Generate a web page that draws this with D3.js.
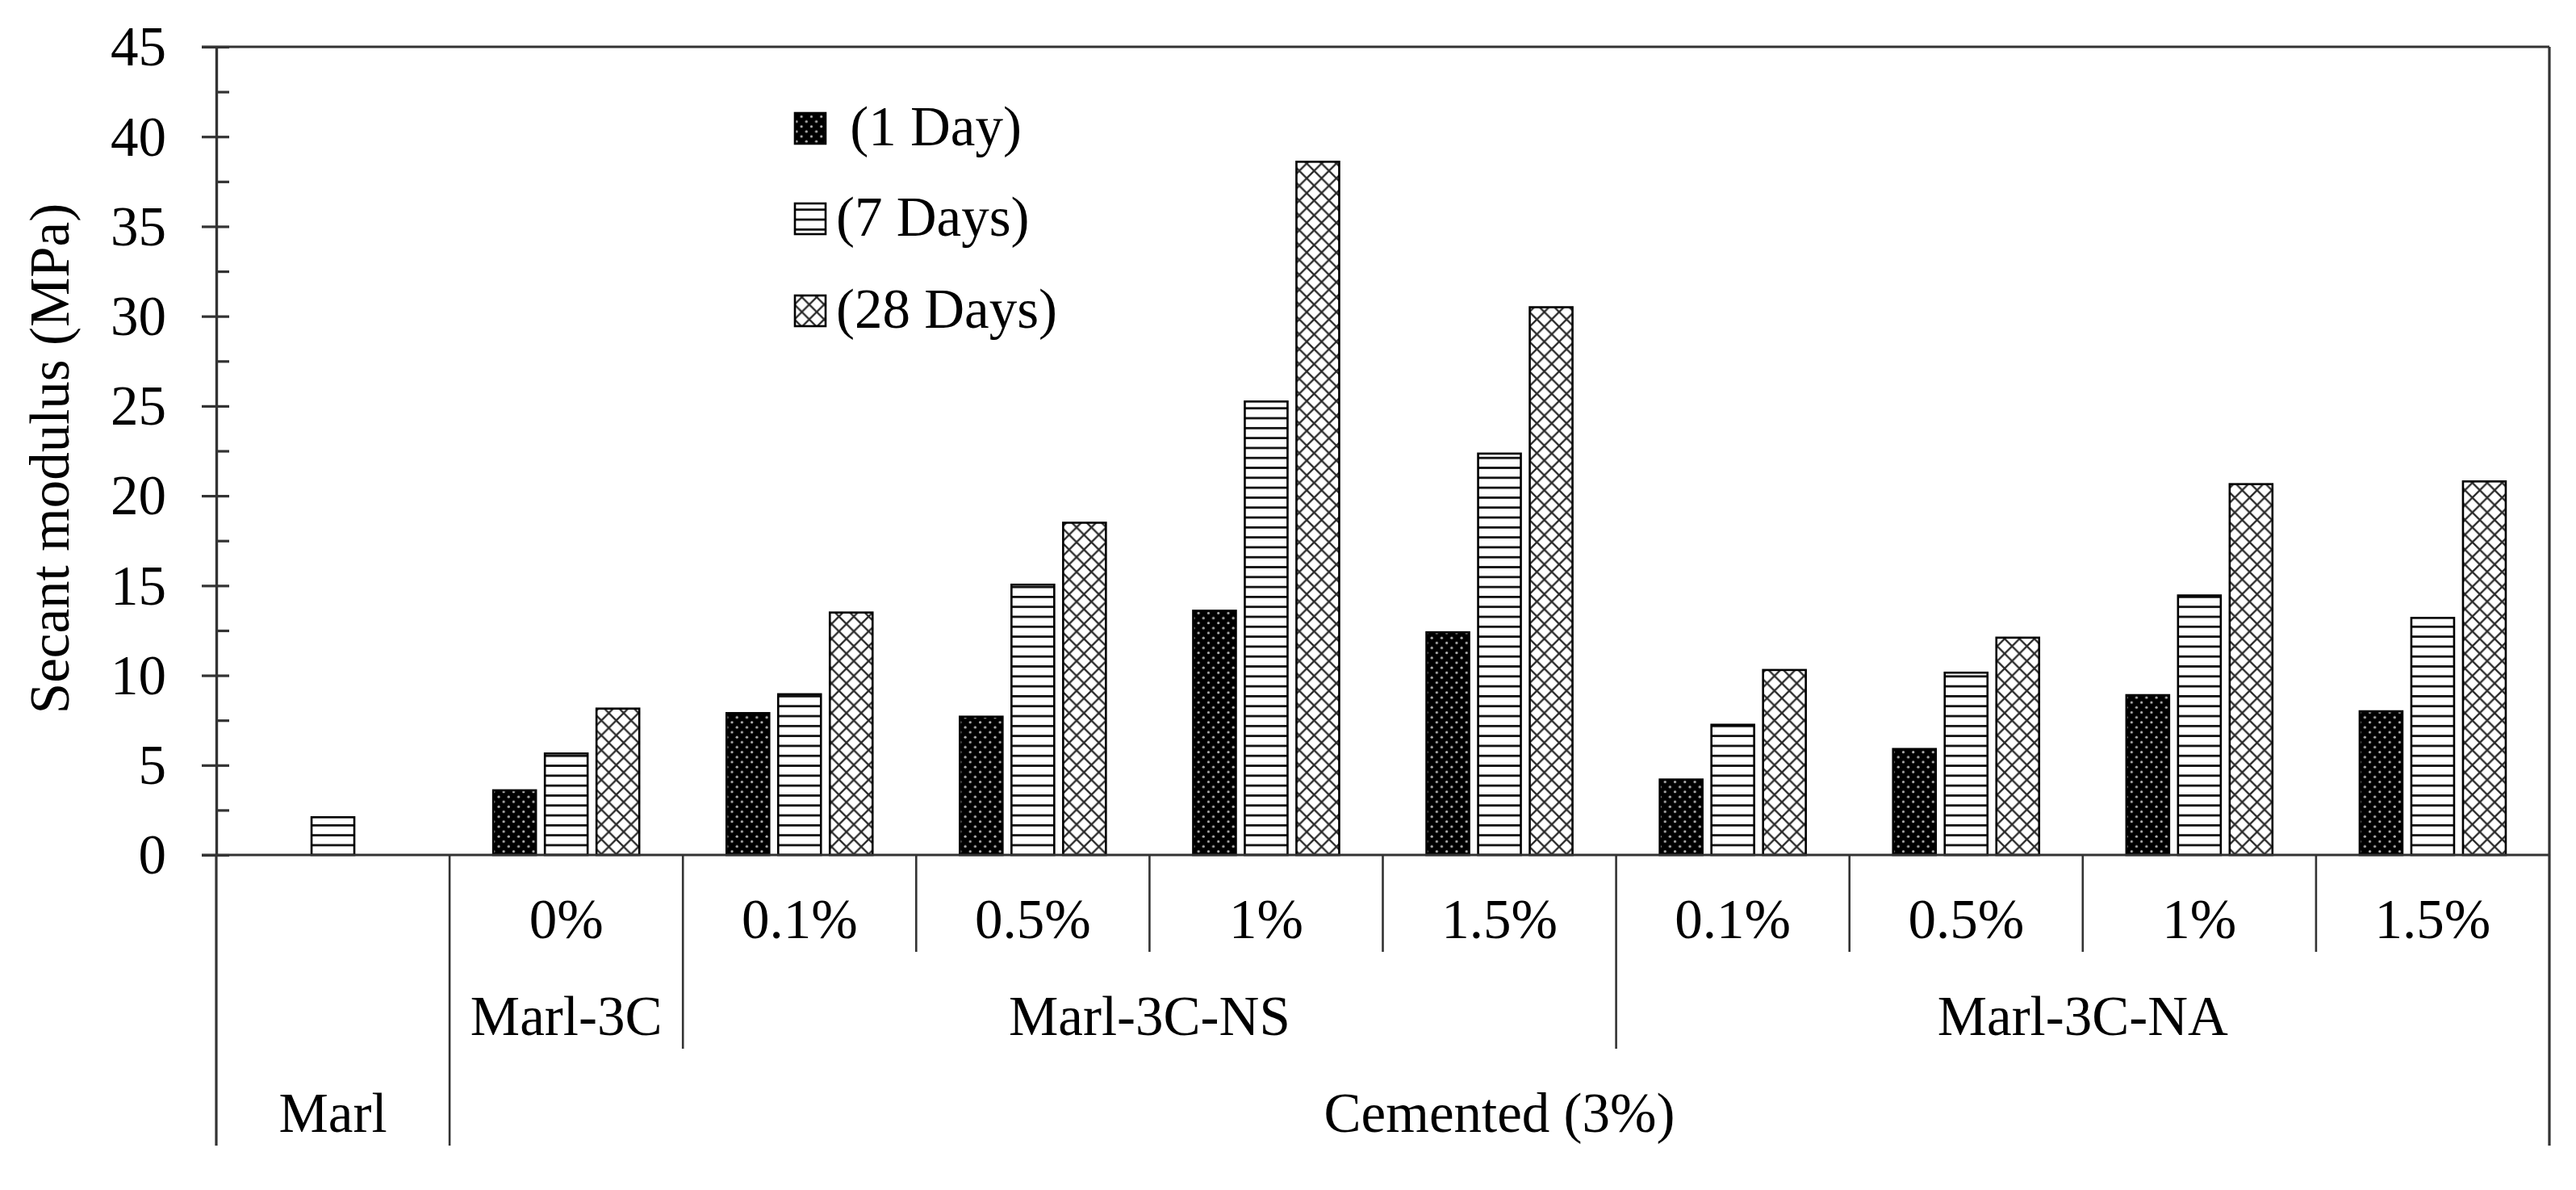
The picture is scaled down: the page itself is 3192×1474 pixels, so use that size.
<!DOCTYPE html>
<html>
<head>
<meta charset="utf-8">
<script src="https://cdn.jsdelivr.net/npm/d3@7"></script>
<style>
  html, body { margin: 0; padding: 0; background: #fff; }
  svg { display: block; }
  text { font-family: "Liberation Serif", "Times New Roman", serif; fill: #000; }
</style>
</head>
<body>
<script>
// ---------------- DATA ----------------
const categories = ["", "0%", "0.1%", "0.5%", "1%", "1.5%", "0.1%", "0.5%", "1%", "1.5%"];
const level2Labels = ["", "Marl-3C", "Marl-3C-NS", "Marl-3C-NA"];
const level2Spans  = [1, 1, 4, 4];
const level3Labels = ["Marl", "Cemented (3%)"];
const level3Spans  = [1, 9];

const seriesNames = [" (1 Day)", "(7 Days)", "(28 Days)"];
const day1  = [null, 3.6, 7.9, 7.7, 13.6, 12.4, 4.2, 5.9, 8.9, 8.0];
const day7  = [2.1, 5.65, 8.95, 15.05, 25.25, 22.35, 7.25, 10.15, 14.45, 13.2];
const day28 = [null, 8.15, 13.5, 18.5, 38.6, 30.5, 10.3, 12.1, 20.65, 20.8];
const seriesValues = [day1, day7, day28];

const yMajorTicks = [0, 5, 10, 15, 20, 25, 30, 35, 40, 45];
const yMinorTicks = [2.5, 7.5, 12.5, 17.5, 22.5, 27.5, 32.5, 37.5, 42.5];
const yTitle = "Secant modulus (MPa)";

// ---------------- LAYOUT ----------------
const W = 3192, H = 1474;
const pL = 268, pR = 3159, pT = 58, pB = 1059;
const rowH = 120;
const FS = 69;
const lineColor = "#333";

const svg = d3.select("body").append("svg")
  .attr("width", W).attr("height", H)
  .attr("viewBox", `0 0 ${W} ${H}`);
svg.append("rect").attr("width", W).attr("height", H).attr("fill", "#fff");

// patterns
const defs = svg.append("defs");
const p1 = defs.append("pattern").attr("id", "pat0").attr("patternUnits", "userSpaceOnUse")
  .attr("width", 12.3).attr("height", 12.3);
p1.append("rect").attr("width", 12.3).attr("height", 12.3).attr("fill", "#000");
p1.append("circle").attr("cx", 3).attr("cy", 3).attr("r", 1.6).attr("fill", "#b4b4b4");
p1.append("circle").attr("cx", 9.15).attr("cy", 9.15).attr("r", 1.6).attr("fill", "#b4b4b4");

const p2 = defs.append("pattern").attr("id", "pat1").attr("patternUnits", "userSpaceOnUse")
  .attr("width", 10).attr("height", 12.3);
p2.append("rect").attr("width", 10).attr("height", 12.3).attr("fill", "#fff");
p2.append("rect").attr("y", 0).attr("width", 10).attr("height", 2.8).attr("fill", "#111");

const P3 = 18.4;
const p3 = defs.append("pattern").attr("id", "pat2").attr("patternUnits", "userSpaceOnUse")
  .attr("width", P3).attr("height", P3);
p3.append("rect").attr("width", P3).attr("height", P3).attr("fill", "#fff");
p3.append("path").attr("d", `M-1,-1L${P3 + 1},${P3 + 1}M${P3 + 1},-1L-1,${P3 + 1}`)
  .attr("stroke", "#2a2a2a").attr("stroke-width", 2.3).attr("fill", "none");

// scales
const idx = categories.map((d, i) => i);
const x0 = d3.scaleBand().domain(idx).range([pL, pR]).padding(0);
const cw = x0.bandwidth();
const x1 = d3.scaleBand().domain([0, 1, 2])
  .range([cw / 2 - 90.5, cw / 2 + 90.5]).paddingInner(0.172).paddingOuter(0);
const y = d3.scaleLinear().domain([0, 45]).range([pB, pT]);

// bars
const barData = [];
seriesValues.forEach((vals, s) => {
  vals.forEach((v, i) => { if (v !== null) barData.push({ s, i, v }); });
});
svg.append("g").selectAll("rect").data(barData).join("rect")
  .attr("x", d => x0(d.i) + x1(d.s))
  .attr("y", d => y(d.v))
  .attr("width", x1.bandwidth())
  .attr("height", d => y(0) - y(d.v))
  .attr("fill", d => `url(#pat${d.s})`)
  .attr("stroke", "#000")
  .attr("stroke-width", 2.6);

// plot border: top and right
svg.append("line").attr("x1", pL - 18).attr("x2", pR).attr("y1", y(45)).attr("y2", y(45))
  .attr("stroke", lineColor).attr("stroke-width", 3.2);
svg.append("line").attr("x1", pR).attr("x2", pR).attr("y1", y(45)).attr("y2", pB + 3 * rowH)
  .attr("stroke", lineColor).attr("stroke-width", 3.2);

// y axis: inner ticks (all), outer ticks + labels (major)
const yInner = d3.axisLeft(y).tickValues(yMajorTicks.concat(yMinorTicks))
  .tickSizeInner(-16).tickSizeOuter(0).tickFormat("");
const gyi = svg.append("g").attr("transform", `translate(${pL},0)`).call(yInner);
const yOuter = d3.axisLeft(y).tickValues(yMajorTicks)
  .tickSizeInner(18).tickSizeOuter(0).tickPadding(44).tickFormat(d3.format("d"));
const gyo = svg.append("g").attr("transform", `translate(${pL},0)`).call(yOuter);
[gyi, gyo].forEach(g => {
  g.selectAll("path.domain").attr("stroke", lineColor).attr("stroke-width", 3.2);
  g.selectAll(".tick line").attr("stroke", lineColor).attr("stroke-width", 3.2);
});
gyo.selectAll(".tick text")
  .attr("font-family", '"Liberation Serif", "Times New Roman", serif')
  .attr("font-size", FS).attr("fill", "#000").attr("dy", "0.33em");

// x axis baseline (zero line)
svg.append("line").attr("x1", pL - 18).attr("x2", pR).attr("y1", y(0)).attr("y2", y(0))
  .attr("stroke", lineColor).attr("stroke-width", 3.2);

// multi-level category axis
function boundaries(spans) {
  const b = [0]; let acc = 0;
  spans.forEach(s => { acc += s; b.push(acc); });
  return b;
}
const b2 = boundaries(level2Spans);
const b3 = boundaries(level3Spans);
const sepG = svg.append("g");
for (let k = 0; k < categories.length; k++) {
  let depth = 1;
  if (b2.includes(k)) depth = 2;
  if (b3.includes(k)) depth = 3;
  const xpos = x0(k);
  sepG.append("line")
    .attr("x1", xpos).attr("x2", xpos)
    .attr("y1", y(0)).attr("y2", pB + depth * rowH)
    .attr("stroke", lineColor).attr("stroke-width", k === 0 ? 3.2 : 2.6);
}

const labG = svg.append("g").attr("font-size", FS).attr("text-anchor", "middle");
categories.forEach((c, i) => {
  labG.append("text").attr("x", x0(i) + cw / 2).attr("y", pB + rowH / 2 + 43).text(c);
});
level2Labels.forEach((c, j) => {
  const xa = x0(b2[j]), xb = b2[j + 1] >= categories.length ? pR : x0(b2[j + 1]);
  labG.append("text").attr("x", (xa + xb) / 2).attr("y", pB + rowH * 1.5 + 43).text(c);
});
level3Labels.forEach((c, j) => {
  const xa = x0(b3[j]), xb = b3[j + 1] >= categories.length ? pR : x0(b3[j + 1]);
  labG.append("text").attr("x", (xa + xb) / 2).attr("y", pB + rowH * 2.5 + 43).text(c);
});

// y axis title
svg.append("text")
  .attr("transform", `translate(85,568) rotate(-90)`)
  .attr("text-anchor", "middle").attr("font-size", FS)
  .text(yTitle);

// legend
const legRowsY = [159, 271, 385];
const legG = svg.append("g");
seriesNames.forEach((name, s) => {
  legG.append("rect")
    .attr("x", 985).attr("y", legRowsY[s] - 19)
    .attr("width", 38).attr("height", 38)
    .attr("fill", `url(#pat${s})`).attr("stroke", "#000").attr("stroke-width", 2.6);
  legG.append("text")
    .attr("x", 1036).attr("y", legRowsY[s] + 21)
    .attr("font-size", FS)
    .style("white-space", "pre")
    .text(name);
});
</script>
</body>
</html>
